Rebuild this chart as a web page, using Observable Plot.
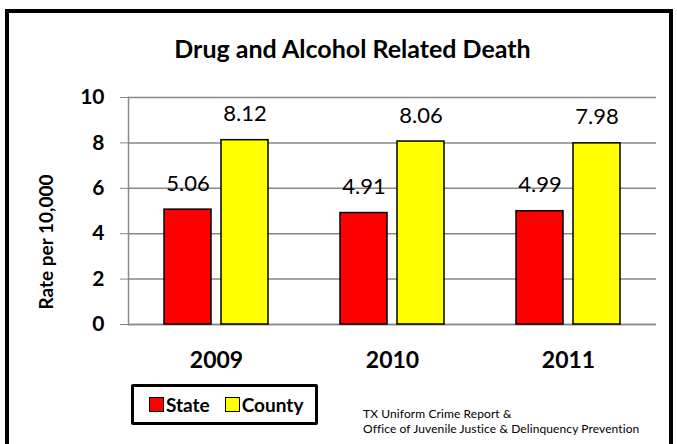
<!DOCTYPE html>
<html>
<head>
<meta charset="utf-8">
<script src="https://cdn.jsdelivr.net/npm/d3@7"></script>
<script src="https://cdn.jsdelivr.net/npm/@observablehq/plot@0.6"></script>
<style>
  html, body { margin: 0; padding: 0; background: #fff; }
  body { width: 677px; height: 444px; overflow: hidden; position: relative; font-family: Lato, "Open Sans", sans-serif; }
  #frame { position: absolute; left: 5px; top: 9px; width: 668px; height: 470px; border: 4px solid #000; box-sizing: border-box; }
  #title { position: absolute; left: 14px; top: 33px; width: 677px; text-align: center; font-weight: bold; font-size: 25px; line-height: 1.2; color: #000; }
  #chart { position: absolute; left: 0; top: 0; }
  #ylabel { position: absolute; left: 45px; top: 242px; transform: translate(-50%, -50%) rotate(-90deg); white-space: nowrap; font-weight: bold; font-size: 19px; color: #000; }
  #legend { position: absolute; left: 131px; top: 384px; width: 187px; height: 41px; border: 3px solid #000; border-radius: 2px; box-sizing: border-box; display: flex; align-items: center; padding-left: 15px; gap: 15px; font-weight: bold; font-size: 19px; background: #fff; }
  .item { display: flex; align-items: center; gap: 2px; }
  .sw { width: 13px; height: 13px; border: 1px solid #000; }
  #source { position: absolute; left: 363px; top: 406px; font-size: 12px; line-height: 15px; letter-spacing: 0.1px; color: #000; white-space: nowrap; }
</style>
</head>
<body>
<div id="frame"></div>
<div id="title">Drug and Alcohol Related Death</div>
<div id="chart"></div>
<div id="ylabel">Rate per 10,000</div>
<div id="legend"></div>
<div id="source">TX Uniform Crime Report &amp;<br>Office of Juvenile Justice &amp; Delinquency Prevention</div>
<script>
const years = ["2009", "2010", "2011"];
const series = ["State", "County"];
const stateValues = [5.06, 4.91, 4.99];
const countyValues = [8.12, 8.06, 7.98];
const yTicks = [0, 2, 4, 6, 8, 10];
const colors = ["#ff0000", "#ffff00"];

const data = [];
years.forEach((y, i) => {
  data.push({year: y, series: "State", value: stateValues[i]});
  data.push({year: y, series: "County", value: countyValues[i]});
});

const plot = Plot.plot({
  width: 677,
  height: 380,
  marginTop: 97,
  marginBottom: 56,
  marginLeft: 128,
  marginRight: 21,
  style: {fontFamily: "Lato, 'Open Sans', sans-serif", background: "transparent", color: "#000"},
  fx: {domain: years, padding: 0, label: null},
  x: {domain: series, paddingInner: 0.18, paddingOuter: 0.62, axis: null},
  y: {domain: [0, 10], label: null},
  color: {domain: series, range: colors},
  marks: [
    Plot.gridY(yTicks, {stroke: "#888", strokeOpacity: 1, strokeWidth: 1.5}),
    Plot.frame({anchor: "left", stroke: "#888", strokeWidth: 1.5, facet: "super"}),
    Plot.ruleY([0], {stroke: "#888", strokeWidth: 1.5}),
    Plot.axisY({ticks: yTicks, tickSize: 8, tickPadding: 16, fontSize: 21, fontWeight: "bold", stroke: "#888", fill: "#000", label: null, tickFormat: d => String(d)}),
    Plot.barY(data, {fx: "year", x: "series", y: "value", fill: "series", stroke: "#000", strokeWidth: 1.5}),
    Plot.text(data, {fx: "year", x: "series", y: "value", text: d => d.value.toFixed(2), dy: -26, fontSize: 22, fill: "#000"}),
    Plot.axisFx({anchor: "bottom", tickSize: 0, tickPadding: 27, fontSize: 23, fontWeight: "bold", label: null, fill: "#000"})
  ]
});
document.getElementById("chart").appendChild(plot);

const legend = document.getElementById("legend");
series.forEach((s, i) => {
  const item = document.createElement("div");
  item.className = "item";
  const sw = document.createElement("div");
  sw.className = "sw";
  sw.style.background = colors[i];
  const t = document.createElement("span");
  t.textContent = s;
  item.appendChild(sw);
  item.appendChild(t);
  legend.appendChild(item);
});
</script>
</body>
</html>
